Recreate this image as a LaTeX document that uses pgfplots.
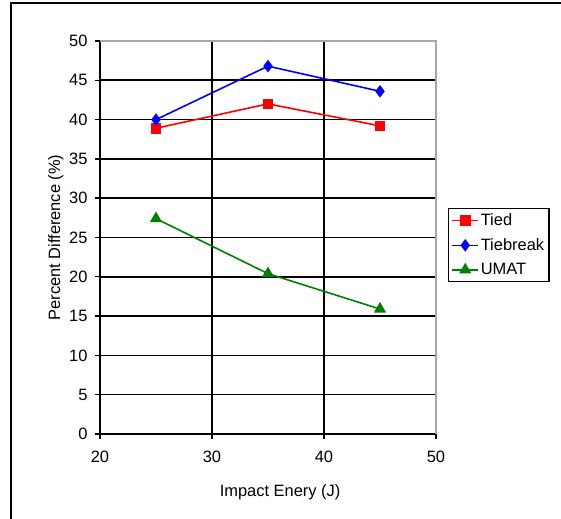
\documentclass[border=0pt]{standalone}
\usepackage{pgfplots}
\pgfplotsset{compat=1.18}
\usepackage{fontspec}
\setmainfont{Liberation Sans}
\definecolor{xlgreen}{RGB}{0,128,0}
\begin{document}
\begin{tikzpicture}[font=\fontsize{16.5}{19}\selectfont]
\useasboundingbox (0,0) rectangle (561bp,519bp);
\draw[line width=1.5bp] (11bp,0) -- (11bp,516bp) -- (561bp,516bp);
\begin{axis}[
  at={(100bp,85bp)}, anchor=south west,
  scale only axis, width=336bp, height=393bp,
  xmin=20, xmax=50, ymin=0, ymax=50,
  xtick={20,30,40,50}, ytick={0,5,...,50},
  axis x line*=bottom, axis y line*=left,
  axis line style={black, line width=1.8bp},
  tick align=outside, major tick length=5bp,
  tick style={black, line width=1.4bp},
  grid=major, major grid style={black, line width=1.6bp},
  clip=false,
  /pgf/number format/assume math mode=true,
  xticklabel style={yshift=-9bp},
  yticklabel style={xshift=-4bp},
  xlabel={Impact Enery (J)},
  ylabel={Percent Difference (\%)},
  xlabel style={at={(axis description cs:0.536,-0.1476)}, anchor=center},
  ylabel style={at={(axis description cs:-0.131,0.5)}, anchor=center},
  legend style={at={(axis description cs:1.0357,0.575)}, anchor=north west,
    draw=black, line width=1.4bp, row sep=7.5bp, inner xsep=3bp, inner ysep=3bp,
    font=\fontsize{16.5}{19}\selectfont},
  legend cell align=left,
  legend image code/.code={\draw[mark repeat=2,mark phase=2] plot coordinates {(0cm,0cm) (0.45cm,0cm) (0.9cm,0cm)};},
]
\addplot[red, line width=1.6bp, mark=square*, mark size=4.5bp, mark options={solid}] coordinates {(25,38.9) (35,42.0) (45,39.2)};
\addlegendentry{Tied}
\addplot[blue, line width=1.6bp, mark=diamond*, mark size=5bp, mark options={solid}] coordinates {(25,40.0) (35,46.8) (45,43.6)};
\addlegendentry{Tiebreak}
\addplot[xlgreen, line width=1.6bp, mark=triangle*, mark size=5.5bp, mark options={solid}] coordinates {(25,27.4) (35,20.4) (45,15.9)};
\addlegendentry{UMAT}
\draw[gray!70, line width=1.6bp] (axis cs:20,50) -- (axis cs:50,50) -- (axis cs:50,0);
\end{axis}
\end{tikzpicture}
\end{document}
